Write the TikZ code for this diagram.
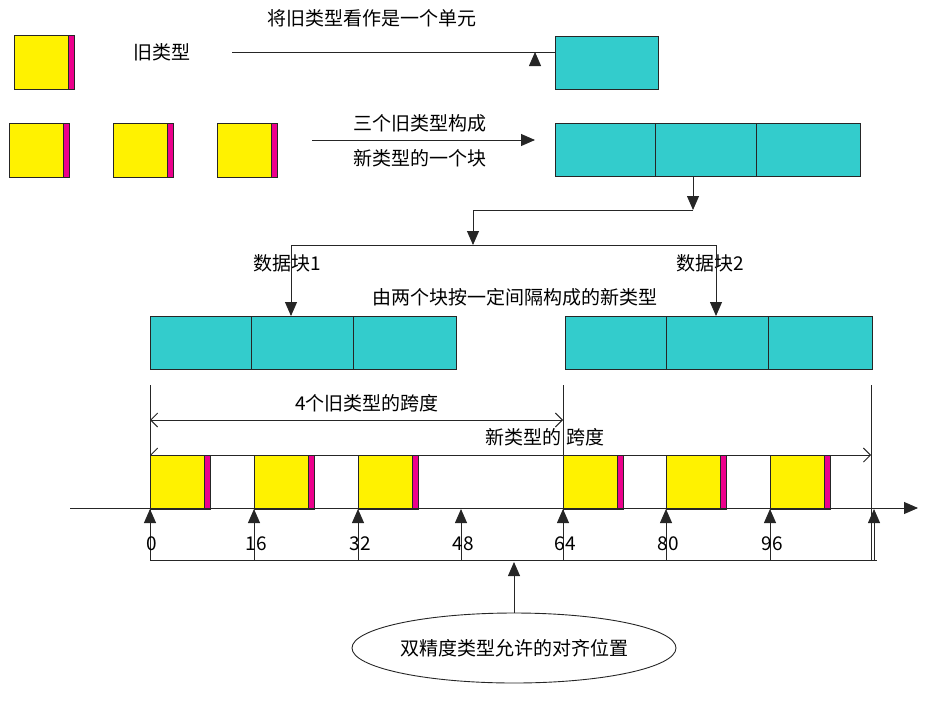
\documentclass[tikz,border=0pt]{standalone}
\usepackage{fontspec}
\setmainfont{Noto Sans CJK SC}
\usetikzlibrary{arrows.meta,shapes.geometric}
\begin{document}
\begin{tikzpicture}[x=1pt,y=-1pt,
  ln/.style={draw=black!85,line width=0.9pt},
  tri/.style={ln,-{Triangle[length=14pt,width=12pt]}},
  barb/.style={ln,{Straight Barb[length=7pt,width=14pt]}-{Straight Barb[length=7pt,width=14pt]}},
  lbl/.style={font=\fontsize{19}{21}\selectfont,inner sep=0pt},
  teal/.style={draw=black!85,fill=cyan!70!teal!80!white,line width=0.8pt,minimum width=101pt,minimum height=53pt,inner sep=0pt,anchor=north west},
  ]
\definecolor{tealc}{RGB}{51,204,204}
\tikzset{teal/.append style={fill=tealc}}
\newcommand{\oldt}[3]{% x, y, name
  \fill[yellow] (#1,#2) rectangle ++(54,54);
  \fill[magenta] (#1+54,#2) rectangle ++(6,54);
  \draw[black!85,line width=0.8pt] (#1,#2) rectangle ++(60,54) (#1+54,#2) -- ++(0,54);
  \coordinate (#3) at (#1,#2);}
\useasboundingbox (0,0) rectangle (949,707);
% row 1
\oldt{14}{35}{o1}
\node[lbl] (t1) at (162,52) {旧类型};
\node[lbl] (h1) at (372,18) {将旧类型看作是一个单元};
\node[teal,minimum width=103pt] (u1) at (555,36) {};
\coordinate (a1s) at (232,52);
\draw[tri] (a1s) -- (u1.west |- a1s) ++(-20,0);
% row 2
\oldt{9}{123}{o2}\oldt{113}{123}{o3}\oldt{217}{123}{o4}
\node[lbl] (h2) at (420,123) {三个旧类型构成};
\node[lbl] (h3) at (420,158) {新类型的一个块};
\node[teal,minimum width=100pt] (b1) at (555,123) {};
\node[teal,minimum width=101pt] (b2) at (655,123) {};
\node[teal,minimum width=104pt] (b3) at (756,123) {};
\coordinate (a2s) at (312,140);
\coordinate (a2e) at (535,140);
\draw[tri] (a2s) -- (a2e);
% branch
\coordinate (c1) at (693,210);
\coordinate (c2) at (473,210);
\coordinate (c3) at (473,245);
\coordinate (cl) at (291,245);
\coordinate (cr) at (716,245);
\draw[tri] (b2.south -| c1) -- (c1);
\draw[tri] (c1) -- (c2) -- (c3);
\draw[ln] (cl) -- (cr);
\node[lbl] (d1) at (287,263) {数据块1};
\node[lbl] (d2) at (710,263) {数据块2};
\node[lbl] (d3) at (515,297) {由两个块按一定间隔构成的新类型};
\node[teal] (l1) at (150,316) {};
\node[teal,minimum width=102pt] (l2) at (251,316) {};
\node[teal,minimum width=103pt] (l3) at (353,316) {};
\node[teal] (r1) at (565,316) {};
\node[teal,minimum width=102pt] (r2) at (666,316) {};
\node[teal,minimum width=104pt] (r3) at (768,316) {};
\draw[tri] (cl) -- (cl |- l2.north);
\draw[tri] (cr) -- (cr |- r2.north);
% spans
\foreach \x/\n in {150/v0,563/v64,871/vE}{
  \coordinate (\n t) at (\x,385);
  \coordinate (\n b) at (\x,560);
  \draw[ln] (\n t) -- (\n b);}
\draw[barb] (150,420) -- (563,420);
\node[lbl] (s1) at (367,403) {4个旧类型的跨度};
\draw[barb] (150,455) -- (871,455);
\node[lbl] (s2) at (545,437) {新类型的 跨度};
% blocks on axis
\oldt{150}{455}{y0}\oldt{254}{455}{y1}\oldt{358}{455}{y2}
\oldt{563}{455}{y3}\oldt{666}{455}{y4}\oldt{770}{455}{y5}
\coordinate (ax0) at (70,508);
\coordinate (ax1) at (918,508);
\draw[tri] (ax0) -- (ax1);
\foreach \x/\t in {150/0,254/16,358/32,461/48,563/64,666/80,770/96,874/}{
  \draw[ln] (\x,560) -- (\x,527);
  \draw[tri] (\x,528) -- (\x,509);
  \node[lbl] at (\x+2,544) {\t};}
\coordinate (bl) at (150,560);
\coordinate (br) at (877,560);
\draw[ln] (bl) -- (br);
\node[ellipse,draw=black!85,line width=0.9pt,minimum width=324pt,minimum height=70pt,inner sep=0pt] (el) at (514,648) {};
\node[lbl] (elt) at (el) {双精度类型允许的对齐位置};
\draw[tri] (el.north) -- (514,562);
\end{tikzpicture}
\end{document}
